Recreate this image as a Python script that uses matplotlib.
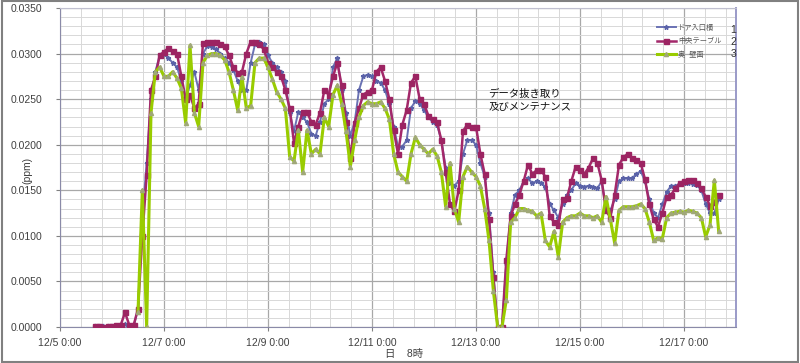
import numpy as np
import pandas as pd
import matplotlib
matplotlib.use("Agg")
from matplotlib import pyplot as plt
import matplotlib.dates as mdates
from matplotlib.patches import Rectangle

plt.rcParams['font.family'] = ['Liberation Sans', 'Noto Sans CJK JP', 'DejaVu Sans']

# 2-hour readings, 12/5 16:00 .. 12/17 16:00
times = pd.date_range("2009-12-05 16:00", periods=145, freq="2h")

door = [0.0001, 0.0001, 0.0001, 0.0001, 0.0001, 0.0001, 0.0001, 0.0003, 0.0001, 0.0001,
        0.002, 0.012, 0.018, 0.025, 0.028, 0.0298, 0.030, 0.0295, 0.029, 0.0285,
        0.027, 0.025, 0.0265, 0.028, 0.026, 0.030, 0.0308, 0.0307, 0.0305, 0.030,
        0.0295, 0.029, 0.0282, 0.027, 0.026, 0.026, 0.029, 0.031, 0.0313, 0.031,
        0.0298, 0.029, 0.0285, 0.028, 0.027, 0.0235, 0.0215, 0.0236, 0.023, 0.0225,
        0.0212, 0.021, 0.0225, 0.0245, 0.025, 0.0285, 0.0295, 0.026, 0.0235, 0.021,
        0.0225, 0.026, 0.0275, 0.0277, 0.0275, 0.027, 0.0268, 0.026, 0.0245, 0.022,
        0.0198, 0.0198, 0.0205, 0.024, 0.0248, 0.0245, 0.0238, 0.023, 0.0225, 0.0222,
        0.0205, 0.0175, 0.0158, 0.0155, 0.016, 0.019, 0.0205, 0.0205, 0.020, 0.018,
        0.0165, 0.0125, 0.006, 0.0, 0.0, 0.007, 0.0125, 0.0145, 0.015, 0.016,
        0.0163, 0.0158, 0.016, 0.0158, 0.0154, 0.0135, 0.0128, 0.012, 0.0135, 0.0145,
        0.015, 0.0158, 0.0155, 0.0154, 0.0155, 0.0154, 0.0152, 0.016, 0.013, 0.0128,
        0.014, 0.016, 0.0163, 0.0163, 0.0163, 0.0168, 0.0171, 0.016, 0.014, 0.0125,
        0.012, 0.0135, 0.0148, 0.0155, 0.0155, 0.0157, 0.0158, 0.0158, 0.0157, 0.0156,
        0.015, 0.0135, 0.0125, 0.0125, 0.014]

table = [0.0001, 0.0001, 0.0, 0.0001, 0.0001, 0.0002, 0.0002, 0.0016, 0.0002, 0.0002,
         0.002, 0.010, 0.0167, 0.026, 0.0275, 0.0298, 0.0302, 0.0306, 0.0303, 0.0300,
         0.0275, 0.025, 0.0255, 0.024, 0.0245, 0.0312, 0.0313, 0.0313, 0.0313, 0.031,
         0.0308, 0.0298, 0.0285, 0.0279, 0.028, 0.030, 0.0313, 0.0313, 0.031, 0.0305,
         0.029, 0.0285, 0.028, 0.0275, 0.026, 0.024, 0.0202, 0.022, 0.0236, 0.0236,
         0.0225, 0.0222, 0.0235, 0.026, 0.0255, 0.0275, 0.029, 0.0265, 0.0225, 0.0185,
         0.0224, 0.024, 0.0255, 0.0258, 0.026, 0.028, 0.0285, 0.027, 0.025, 0.0216,
         0.019, 0.0222, 0.0238, 0.0268, 0.0275, 0.025, 0.0245, 0.0232, 0.0228, 0.0225,
         0.0205, 0.017, 0.0135, 0.0127, 0.015, 0.0215, 0.0222, 0.022, 0.022, 0.019,
         0.0168, 0.0118, 0.0055, 0.0, 0.0, 0.0074, 0.0122, 0.0135, 0.0145, 0.016,
         0.0178, 0.0168, 0.0172, 0.0172, 0.0165, 0.0122, 0.0115, 0.0112, 0.014, 0.0142,
         0.016, 0.0176, 0.0172, 0.0168, 0.0175, 0.0185, 0.018, 0.0161, 0.0128, 0.012,
         0.0145, 0.0178, 0.0186, 0.019, 0.0185, 0.0183, 0.018, 0.0162, 0.0135, 0.0118,
         0.011, 0.0125, 0.0143, 0.0145, 0.0152, 0.0158, 0.016, 0.0161, 0.0161, 0.0158,
         0.0152, 0.0143, 0.0133, 0.0137, 0.0145]

nan = np.nan
wall = [nan, nan, nan, nan, nan, nan, nan, nan, nan, nan,
        0.0016, 0.015, 0.0, 0.0235, 0.028, 0.0285, 0.0275, 0.0275, 0.028, 0.0273,
        0.0262, 0.0224, 0.0309, 0.0235, 0.022, 0.029, 0.0298, 0.030, 0.030, 0.0298,
        0.0293, 0.028, 0.026, 0.0238, 0.0274, 0.024, 0.0243, 0.029, 0.0295, 0.0295,
        0.0285, 0.0272, 0.0258, 0.025, 0.024, 0.0187, 0.0182, 0.0216, 0.017, 0.0216,
        0.019, 0.0195, 0.019, 0.023, 0.022, 0.0255, 0.0265, 0.0245, 0.0215, 0.0176,
        0.0205, 0.023, 0.0243, 0.0247, 0.0245, 0.0245, 0.0247, 0.024, 0.0228, 0.019,
        0.017, 0.0165, 0.016, 0.019, 0.0208, 0.020, 0.0195, 0.019, 0.0195, 0.0188,
        0.017, 0.0132, 0.018, 0.013, 0.0115, 0.0165, 0.0176, 0.017, 0.0165, 0.0155,
        0.013, 0.0095, 0.004, 0.0, 0.0, 0.003, 0.0115, 0.012, 0.013, 0.013,
        0.0128, 0.0127, 0.0122, 0.0125, 0.0095, 0.0088, 0.0105, 0.0077, 0.0115, 0.012,
        0.0122, 0.0122, 0.0125, 0.0122, 0.0122, 0.012, 0.0122, 0.0115, 0.0143, 0.0118,
        0.0092, 0.0128, 0.0132, 0.0132, 0.0132, 0.0133, 0.0135, 0.013, 0.0115, 0.0095,
        0.0098, 0.0097, 0.012, 0.0125, 0.0126, 0.0127, 0.0126, 0.0128, 0.0127, 0.0125,
        0.012, 0.0099, 0.0112, 0.0161, 0.0105]

labels = ["ドア入口横", "中央テーブル", "奥  壁面"]
tick_days = ["2009-12-05", "2009-12-07", "2009-12-09", "2009-12-11",
             "2009-12-13", "2009-12-15", "2009-12-17"]
tick_text = ["12/5 0:00", "12/7 0:00", "12/9 0:00", "12/11 0:00",
             "12/13 0:00", "12/15 0:00", "12/17 0:00"]

fig = plt.figure(figsize=(8, 3.63), dpi=100)
ax = fig.add_axes([0.075, 0.099, 0.845, 0.879])

ax.plot(times, door, color="#6a72b4", lw=1.4, marker="*", ms=3.5,
        mec="#5a62a8", mfc="#5a62a8", label=labels[0], zorder=3)
ax.plot(times, table, color="#a3286a", lw=1.8, marker="s", ms=3.6,
        mec="#9c2462", mfc="#9c2462", label=labels[1], zorder=4)
ax.plot(times, wall, color="#99cc00", lw=2.2, marker="^", ms=3,
        mec="#a0a878", mfc="#a0a878", label=labels[2], zorder=5)

x0 = mdates.date2num(pd.Timestamp("2009-12-05"))
x1 = mdates.date2num(pd.Timestamp("2009-12-18"))
ax.set_xlim(x0, x1)
ax.set_ylim(0, 0.035)

ax.set_xticks([mdates.date2num(pd.Timestamp(d)) for d in tick_days])
ax.set_xticklabels(tick_text)
ax.set_xticks(np.arange(x0, x1 + 0.01, 0.4), minor=True)
ax.set_yticks(np.arange(0, 0.0351, 0.005))
ax.set_yticklabels([f"{v:.4f}" for v in np.arange(0, 0.0351, 0.005)])
ax.set_yticks(np.arange(0, 0.0351, 0.001), minor=True)

ax.grid(which="major", color="#a8a8a8", lw=0.9)
ax.grid(which="minor", color="#d8d8d8", lw=0.7)
ax.set_axisbelow(True)
ax.tick_params(which="both", labelsize=7.5, labelcolor="#404040", color="#808080")
ax.tick_params(which="minor", length=0)
ax.tick_params(axis="x", length=3, pad=5)
ax.tick_params(axis="y", length=3, pad=10)

for s in ["left", "bottom"]:
    ax.spines[s].set_color("#8a8aa8")
ax.spines["right"].set_color("#9a9ac8")
ax.spines["top"].set_color("#c0c0d0")
ax.spines["right"].set_linewidth(1.4)

fig.text(27 / 800, 1 - 170 / 363, "(ppm)", fontsize=7.5, color="#404040",
         rotation=90, ha="center", va="center")
fig.text(0.505, 1 - 354 / 363, "日    8時", fontsize=7.5, color="#404040",
         ha="center", va="center")

ax.text(0.634, 0.71, "データ抜き取り\n及びメンテナンス", transform=ax.transAxes,
        fontsize=7.5, color="#111111", va="center", linespacing=1.3)

fig.legend(loc="upper left", bbox_to_anchor=(0.813, 0.95), frameon=False,
           fontsize=5.2, handlelength=2.6, labelspacing=0.85, handletextpad=0.3,
           labelcolor="#555555")
for k, yy in enumerate([0.908, 0.875, 0.843]):
    fig.text(0.913, yy, str(k + 1), fontsize=7.5, color="#333333")

fig.patches.append(Rectangle((0.002, 0.003), 0.996, 0.994, transform=fig.transFigure,
                             fill=False, edgecolor="#808080", lw=1.5))

fig.savefig("out.png", dpi=100)
